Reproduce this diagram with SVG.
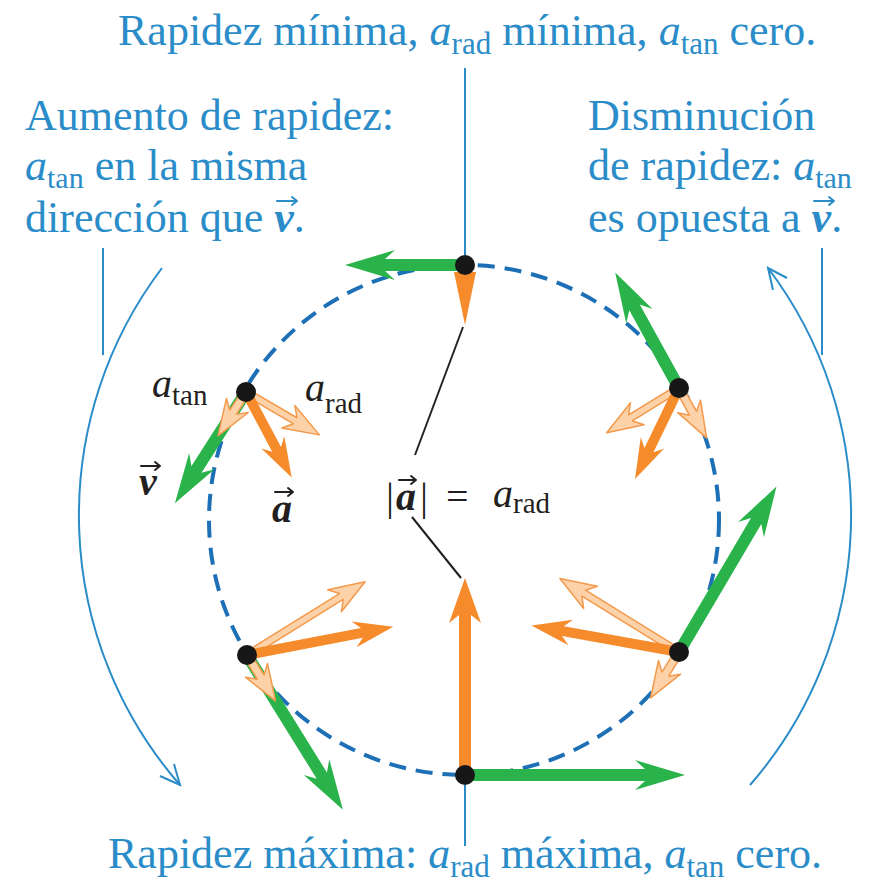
<svg xmlns="http://www.w3.org/2000/svg" width="877" height="890" viewBox="0 0 877 890">
<style>
.cap{font-family:"Liberation Serif","Times New Roman",serif;font-size:44px;fill:#2a8cc8}
.it{font-style:italic}
.bi{font-style:italic;font-weight:bold}
.lbl{font-family:"Liberation Serif","Times New Roman",serif;font-size:40px;fill:#231f20}
.bline{stroke:#2a8cc8;stroke-width:2;fill:none}
.acc{stroke-width:2;fill:none;stroke-linecap:round;stroke-linejoin:round}
.green{fill:#2bb34b}
.solid{fill:#f68b2c}
.light{fill:#fdd2a9;stroke:#f39a4c;stroke-width:1.5;stroke-linejoin:round}
.dot{fill:#171717}
.blk{stroke:#231f20;stroke-width:2}
</style>
<rect width="877" height="890" fill="#ffffff"/>

<g id="circle">
<circle cx="464" cy="520" r="255" fill="none" stroke="#1d6fb6" stroke-width="4" stroke-dasharray="17 10"/>
</g>

<g id="connectors">
<line class="bline" x1="465" y1="68" x2="465" y2="255"/>
<line class="bline" x1="465" y1="785" x2="465" y2="846"/>
<line class="bline" x1="103" y1="248" x2="103" y2="355"/>
<line class="bline" x1="822" y1="248" x2="822" y2="355"/>
<path class="bline" d="M162,268 A410,410 0 0,0 180,785"/>
<path class="bline" d="M160,776 L180,785 L174,764"/>
<path class="bline" d="M750,785 A410,410 0 0,0 768,268"/>
<path class="bline" d="M787,278 L768,268 L773,290"/>
<line class="blk" x1="463" y1="327" x2="415" y2="455"/>
<line class="blk" x1="412" y1="517" x2="461" y2="578"/>
</g>

<g id="pt-top">
<polygon class="green" transform="translate(465,265) rotate(180)" points="0,-6 80,-6 70,-15 120,0 70,15 80,6 0,6"/>
<polygon class="solid" points="454,272 476,272 465,325"/>
<circle class="dot" cx="465" cy="265" r="10"/>
</g>

<g id="pt-upper-left">
<polygon class="green" transform="translate(246,392) rotate(122.6)" points="0,-6 92,-6 82,-15 132,0 82,15 92,6 0,6"/>
<polygon class="light" transform="translate(246,392) rotate(122.6)" points="0,-4 24,-4 16,-13 52,0 16,13 24,4 0,4"/>
<polygon class="light" transform="translate(246,392) rotate(30.3)" points="0,-3.5 57,-3.5 49,-13 85,0 49,13 57,3.5 0,3.5"/>
<polygon class="solid" transform="translate(246,392) rotate(61.9)" points="0,-5 65,-5 57,-13 97,0 57,13 65,5 0,5"/>
<circle class="dot" cx="246" cy="392" r="10"/>
</g>

<g id="pt-upper-right">
<polygon class="green" transform="translate(679,388) rotate(-118.9)" points="0,-6 92,-6 82,-15 132,0 82,15 92,6 0,6"/>
<polygon class="light" transform="translate(679,388) rotate(61.1)" points="0,-4 29,-4 21,-13 57,0 21,13 29,4 0,4"/>
<polygon class="light" transform="translate(679,388) rotate(148.3)" points="0,-3.5 57,-3.5 49,-13 85,0 49,13 57,3.5 0,3.5"/>
<polygon class="solid" transform="translate(679,388) rotate(115.8)" points="0,-5 69,-5 61,-13 101,0 61,13 69,5 0,5"/>
<circle class="dot" cx="679" cy="388" r="10"/>
</g>

<g id="pt-lower-left">
<polygon class="green" transform="translate(247,655) rotate(58.2)" points="0,-6 142,-6 132,-15 182,0 132,15 142,6 0,6"/>
<polygon class="light" transform="translate(247,655) rotate(58.2)" points="0,-4 26,-4 18,-13 54,0 18,13 26,4 0,4"/>
<polygon class="light" transform="translate(247,655) rotate(-31.8)" points="0,-3.5 111,-3.5 103,-13 139,0 103,13 111,3.5 0,3.5"/>
<polygon class="solid" transform="translate(247,655) rotate(-10.9)" points="0,-5 117,-5 109,-13 149,0 109,13 117,5 0,5"/>
<circle class="dot" cx="247" cy="655" r="10"/>
</g>

<g id="pt-lower-right">
<polygon class="green" transform="translate(679,652) rotate(-59.5)" points="0,-6 152,-6 142,-15 192,0 142,15 152,6 0,6"/>
<polygon class="light" transform="translate(679,652) rotate(121.7)" points="0,-4 26,-4 18,-13 54,0 18,13 26,4 0,4"/>
<polygon class="light" transform="translate(679,652) rotate(-148.3)" points="0,-3.5 112,-3.5 104,-13 140,0 104,13 112,3.5 0,3.5"/>
<polygon class="solid" transform="translate(679,652) rotate(-169.8)" points="0,-5 118,-5 110,-13 150,0 110,13 118,5 0,5"/>
<circle class="dot" cx="679" cy="652" r="10"/>
</g>

<g id="pt-bottom">
<polygon class="solid" transform="translate(465,775) rotate(-90)" points="0,-6 160,-6 152,-16 197,0 152,16 160,6 0,6"/>
<polygon class="green" transform="translate(465,775)" points="0,-6 180,-6 170,-15 220,0 170,15 180,6 0,6"/>
<circle class="dot" cx="465" cy="775" r="10"/>
</g>

<g id="labels">
<text class="lbl" x="152" y="397"><tspan class="it">a</tspan><tspan font-size="29" dy="8">tan</tspan></text>
<text class="lbl" x="305" y="401"><tspan class="it">a</tspan><tspan font-size="29" dy="12">rad</tspan></text>
<text class="lbl bi" x="139" y="495">v</text>
<path class="acc" stroke="#231f20" d="M141,466 H160 M155,462 L160,466 L155,470"/>
<text class="lbl bi" x="272" y="522">a</text>
<path class="acc" stroke="#231f20" d="M275,492 H293 M288,488 L293,492 L288,496"/>
<text class="lbl" x="386" y="510">|</text>
<text class="lbl bi" x="396" y="510">a</text>
<path class="acc" stroke="#231f20" d="M399,480 H416 M411,476 L416,480 L411,484"/>
<text class="lbl" x="420" y="510">|</text>
<text class="lbl" x="446" y="510">=</text>
<text class="lbl" x="493" y="507"><tspan class="it">a</tspan><tspan font-size="29" dy="6">rad</tspan></text>
</g>

<g id="caption-top">
<text class="cap" x="118" y="45">Rapidez mínima, <tspan class="it">a</tspan><tspan font-size="31" dy="9">rad</tspan><tspan dy="-9"> mínima, </tspan><tspan class="it">a</tspan><tspan font-size="31" dy="9">tan</tspan><tspan dy="-9"> cero.</tspan></text>
</g>

<g id="caption-left">
<text class="cap" x="25" y="130">Aumento de rapidez:</text>
<text class="cap" x="25" y="180"><tspan class="it">a</tspan><tspan font-size="30" dy="8">tan</tspan><tspan dy="-8"> en la misma</tspan></text>
<text class="cap" x="25" y="232">dirección que <tspan class="bi">v</tspan>.</text>
<path class="acc" stroke="#2a8cc8" d="M277,201 H297 M292,197 L297,201 L292,205"/>
</g>

<g id="caption-right">
<text class="cap" x="588" y="130">Disminución</text>
<text class="cap" x="588" y="180">de rapidez: <tspan class="it">a</tspan><tspan font-size="30" dy="8">tan</tspan></text>
<text class="cap" x="588" y="232">es opuesta a <tspan class="bi">v</tspan>.</text>
<path class="acc" stroke="#2a8cc8" d="M814,201 H834 M829,197 L834,201 L829,205"/>
</g>

<g id="caption-bottom">
<text class="cap" x="108" y="868">Rapidez máxima: <tspan class="it">a</tspan><tspan font-size="31" dy="9">rad</tspan><tspan dy="-9"> máxima, </tspan><tspan class="it">a</tspan><tspan font-size="31" dy="9">tan</tspan><tspan dy="-9"> cero.</tspan></text>
</g>
</svg>
